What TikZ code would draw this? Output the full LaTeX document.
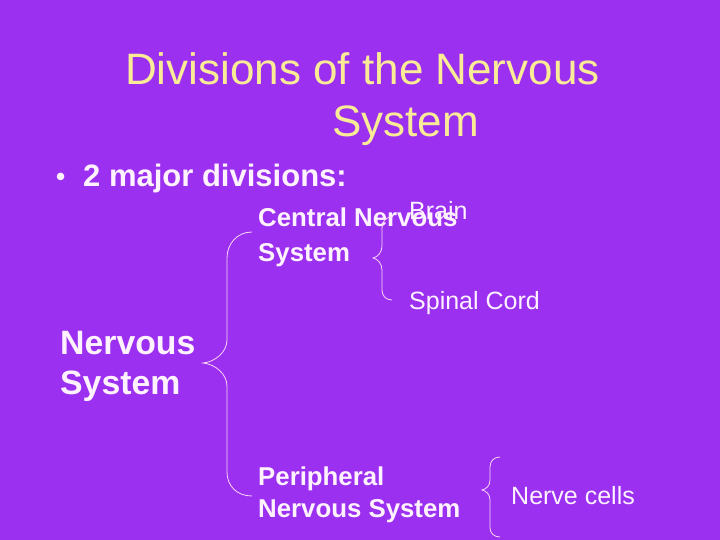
\documentclass[tikz,border=0pt]{standalone}
\usepackage{fontspec}
\setmainfont{Liberation Sans}
\definecolor{bgpurple}{RGB}{155,48,240}
\definecolor{titleyellow}{RGB}{250,236,150}
\definecolor{txtwhite}{RGB}{255,242,255}
\definecolor{linepink}{RGB}{255,215,240}
\tikzset{
  lbl/.style={anchor=base west, inner sep=0pt, text=txtwhite, font=\bfseries\fontsize{25.8}{30}\selectfont},
  sublbl/.style={anchor=base west, inner sep=0pt, text=txtwhite, font=\fontsize{25}{30}\selectfont},
  ttl/.style={anchor=base west, inner sep=0pt, text=titleyellow, font=\fontsize{44}{52}\selectfont},
  biglbl/.style={anchor=base west, inner sep=0pt, text=txtwhite, font=\bfseries\fontsize{33.8}{40}\selectfont},
  bullbl/.style={anchor=base west, inner sep=0pt, text=txtwhite, font=\bfseries\fontsize{31}{36}\selectfont},
  brace/.style={draw=linepink, line width=0.8pt}
}
\begin{document}
\begin{tikzpicture}[x=1pt,y=-1pt]
\fill[bgpurple] (0,0) rectangle (720,540);
\useasboundingbox (0,0) rectangle (720,540);
% title
\node[ttl] (t1) at (125,85) {Divisions of the Nervous};
\node[ttl] (t2) at (332,137) {System};
% bullet
\node[anchor=base west, inner sep=0pt, text=txtwhite, font=\bfseries\fontsize{26}{30}\selectfont] (bl) at (56,186) {\textbullet};
\node[bullbl] (b1) at (83,187) {2 major divisions:};
% labels
\node[lbl] (cns1) at (258,226) {Central Nervous};
\node[lbl] (cns2) at (258,261) {System};
\node[sublbl] (brain) at (409,220) {Brain};
\node[sublbl] (spinal) at (409,309) {Spinal Cord};
\node[biglbl] (ns1) at (60,354) {Nervous};
\node[biglbl] (ns2) at (60,394) {System};
\node[lbl] (pns1) at (258,485) {Peripheral};
\node[lbl] (pns2) at (258,517) {Nervous System};
\node[sublbl] (nc) at (511,504) {Nerve cells};
% big brace
\draw[brace] (252,232) .. controls (237,232) and (227,244) .. (227,258) -- (227,340)
  .. controls (227,352) and (215,362) .. (203,363)
  .. controls (215,364) and (227,374) .. (227,386) -- (227,472)
  .. controls (227,486) and (237,496) .. (252,496);
% CNS brace
\draw[brace] (392,217) .. controls (386,217) and (382,221) .. (382,228) -- (382,246)
  .. controls (382,252) and (378,257) .. (373,258)
  .. controls (378,259) and (382,264) .. (382,270) -- (382,290)
  .. controls (382,296) and (386,300) .. (392,300);
% nerve cells brace
\draw[brace] (500,457) .. controls (494,457) and (490,461) .. (490,467) -- (490,480)
  .. controls (490,486) and (486,489) .. (482,490)
  .. controls (486,491) and (490,494) .. (490,500) -- (490,528)
  .. controls (490,533) and (494,537) .. (500,537);
\end{tikzpicture}
\end{document}
